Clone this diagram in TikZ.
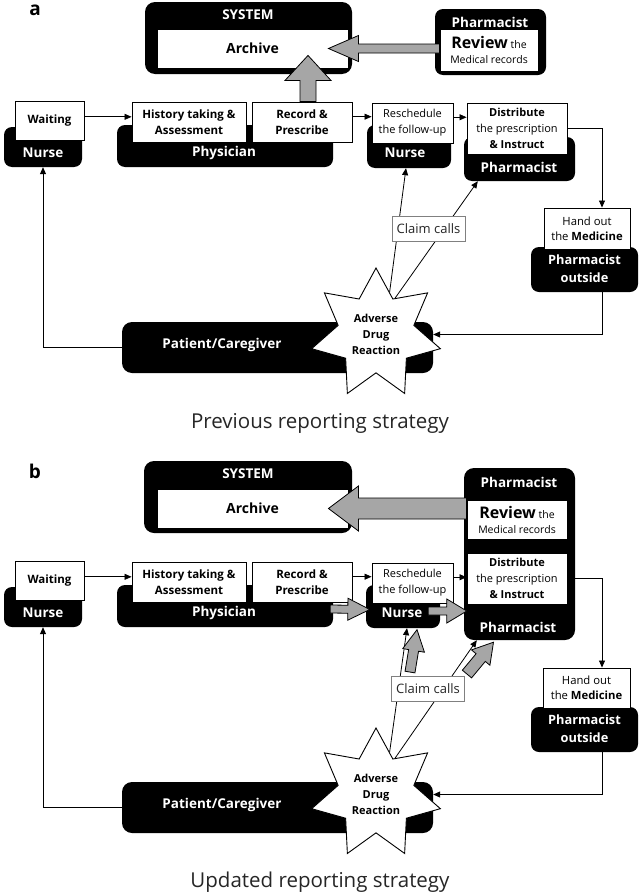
\documentclass[tikz,border=0pt]{standalone}
\usepackage{fontspec}
\setmainfont{Open Sans}
\usetikzlibrary{shapes.geometric,arrows.meta,calc}

\newcommand{\fs}[2]{\fontsize{#1}{#2}\selectfont}

\tikzset{
  rolebox/.style={fill=black, rounded corners=8pt, inner sep=0pt},
  rolename/.style={text=white, font=\bfseries\fs{13.5}{18}, align=center, inner sep=0pt},
  taskbox/.style={draw=black, line width=0.9pt, fill=white, inner sep=0pt, align=center},
  boldtask/.style={taskbox, font=\bfseries\fs{11.5}{16}},
  plaintask/.style={taskbox, font=\fs{11}{16}},
  flow/.style={line width=0.8pt, -{Triangle[length=7pt,width=6pt]}},
  claimbox/.style={draw=black!50, line width=0.9pt, fill=white, text=black!85, font=\fs{13}{15}, minimum width=73pt, minimum height=25pt, inner sep=0pt},
  adrstar/.style={star, star points=7, star point ratio=1.7, minimum size=132pt, draw=black, line width=0.9pt, fill=white, inner sep=0pt, align=center, font=\bfseries\fs{11}{16}},
  blockarr/.style={draw=black, line width=0.8pt, fill=black!35, line join=miter},
  caption/.style={font=\fs{20.5}{24}, text=black!85},
  panel/.style={font=\bfseries\fs{19}{22}}
}

\newcommand{\blockarrow}[5]{%
  \coordinate (ba-h) at ($(#2)!#5!(#1)$);
  \draw[blockarr] ($(#1)!#3!90:(#2)$) -- ($(ba-h)!#3!-90:(#1)$) -- ($(ba-h)!#4!-90:(#1)$) -- (#2)
    -- ($(ba-h)!#4!90:(#1)$) -- ($(ba-h)!#3!90:(#1)$) -- ($(#1)!#3!-90:(#2)$) -- cycle;}

\begin{document}
\begin{tikzpicture}[x=1pt, y=-1pt]
\useasboundingbox (0,0) rectangle (640,894);

\node[panel] (labA) at (35,10) {a};

\node[rolebox, minimum width=207pt, minimum height=72pt, rounded corners=10pt] (sysA) at (248.5,38) {};
\node[rolebox, minimum width=111pt, minimum height=66pt] (phrTA) at (490.5,42) {};
\node[rolebox, minimum width=78pt, minimum height=40pt] (nurA) at (43,147) {};
\node[rolebox, minimum width=216pt, minimum height=42pt] (phyA) at (225,146) {};
\node[rolebox, minimum width=84pt, minimum height=43pt] (nurMA) at (409,146.5) {};
\node[rolebox, minimum width=111pt, minimum height=44pt] (pharMA) at (519.5,159) {};
\node[rolebox, minimum width=107pt, minimum height=45pt] (pharoA) at (584.5,269.5) {};
\node[rolebox, minimum width=311pt, minimum height=51pt, rounded corners=10pt] (patA) at (277.5,347.5) {};

\node[rolename] (sysAt) at (248,15) {SYSTEM};
\node[rolename] (phrTAt) at (490,22) {Pharmacist};
\node[rolename] (nurAt) at (43,153) {Nurse};
\node[rolename] (phyAt) at (224,153) {Physician};
\node[rolename] (nurMAt) at (405,153) {Nurse};
\node[rolename] (pharMAt) at (519,167) {Pharmacist};
\node[rolename, font=\bfseries\fs{12.8}{18}] (pharoAt) at (584.5,269) {Pharmacist\\outside};
\node[rolename] (patAt) at (222,345) {Patient/Caregiver};

\node[taskbox, font=\bfseries\fs{14}{16}, minimum width=191pt, minimum height=39pt] (archA) at (252.5,48.5) {Archive};
\node[taskbox, font=\fs{10.5}{15}, minimum width=98pt, minimum height=42pt] (revA) at (489,50) {{\bfseries\fs{16}{15}Review} the\\Medical records};
\node[boldtask, minimum width=69pt, minimum height=39pt] (waitA) at (49.5,120.5) {Waiting};
\node[boldtask, minimum width=114pt, minimum height=40pt] (histA) at (189,122) {History taking \&\\Assessment};
\node[boldtask, minimum width=100pt, minimum height=40pt] (recA) at (302,122) {Record \&\\Prescribe};
\node[plaintask, minimum width=81pt, minimum height=40pt] (reschA) at (412.5,123) {Reschedule\\the follow-up};
\node[plaintask, minimum width=100pt, minimum height=51pt] (distA) at (517,128.5) {\textbf{Distribute}\\the prescription\\\textbf{\& Instruct}};
\node[plaintask, minimum width=86pt, minimum height=41pt, font=\fs{11.3}{15}] (handA) at (587,228.5) {Hand out\\the \textbf{Medicine}};

\node[adrstar] (adrA) at (376,334) {Adverse\\Drug\\Reaction};

\coordinate (railA) at (602,130);
\draw[flow] (waitA.6) -- (waitA.6 -| histA.west);
\draw[flow] (recA.6) -- (recA.6 -| reschA.west);
\draw[flow] (reschA.8) -- (reschA.8 -| distA.west);
\draw[flow] (distA.east) -| (railA |- handA.north);
\draw[flow] (railA |- pharoA.south) |- ([yshift=13pt]patA.east);
\draw[flow] (patA.west) -| (nurA.south);
\draw[flow] (adrA.72) -- ([xshift=-3pt]nurMA.south);
\draw[flow] (adrA.62) -- ([xshift=14pt]pharMA.south west);

\node[claimbox] (claimA) at (428.5,229) {Claim calls};

\coordinate (upA1) at ($(recA.north)+(6,0)$);
\coordinate (upA2) at ($(upA1 |- archA.south)+(0,-13)$);
\blockarrow{upA1}{upA2}{8pt}{23pt}{25pt}
\coordinate (lfA1) at (revA.west |- archA.east);
\coordinate (lfA2) at ($(archA.east)+(-20,0)$);
\blockarrow{lfA1}{lfA2}{4.5pt}{13pt}{30pt}

\node[caption] (capA) at (320,423) {Previous reporting strategy};

\node[panel] (labB) at (35,471) {b};

\node[rolebox, minimum width=208pt, minimum height=72pt, rounded corners=10pt] (sysB) at (248,497) {};
\node[rolebox, minimum width=111pt, minimum height=172pt, rounded corners=10pt] (pharB) at (519.5,554) {};
\node[rolebox, minimum width=78pt, minimum height=40pt] (nurB) at (43,607) {};
\node[rolebox, minimum width=216pt, minimum height=42pt] (phyB) at (225,606) {};
\node[rolebox, minimum width=74pt, minimum height=43pt] (nurMB) at (403,606.5) {};
\node[rolebox, minimum width=107pt, minimum height=45pt] (pharoB) at (584.5,729.5) {};
\node[rolebox, minimum width=311pt, minimum height=51pt, rounded corners=10pt] (patB) at (277.5,807.5) {};

\node[rolename] (sysBt) at (248,474) {SYSTEM};
\node[rolename] (pharBt) at (519,482) {Pharmacist};
\node[rolename] (pharBt2) at (518,627) {Pharmacist};
\node[rolename] (nurBt) at (43,613) {Nurse};
\node[rolename] (phyBt) at (224,613) {Physician};
\node[rolename] (nurMBt) at (402,613) {Nurse};
\node[rolename, font=\bfseries\fs{12.8}{18}] (pharoBt) at (584.5,729) {Pharmacist\\outside};
\node[rolename] (patBt) at (222,805) {Patient/Caregiver};

\node[taskbox, font=\bfseries\fs{14}{16}, minimum width=191pt, minimum height=39pt] (archB) at (252.5,508.5) {Archive};
\node[taskbox, font=\fs{10.5}{15}, minimum width=100pt, minimum height=39pt] (revB) at (517,519.5) {{\bfseries\fs{16}{15}Review} the\\Medical records};
\node[boldtask, minimum width=69pt, minimum height=39pt] (waitB) at (49.5,580.5) {Waiting};
\node[boldtask, minimum width=114pt, minimum height=40pt] (histB) at (189,582) {History taking \&\\Assessment};
\node[boldtask, minimum width=100pt, minimum height=40pt] (recB) at (302,582) {Record \&\\Prescribe};
\node[plaintask, minimum width=81pt, minimum height=40pt] (reschB) at (412.5,583) {Reschedule\\the follow-up};
\node[plaintask, minimum width=100pt, minimum height=51pt] (distB) at (517,578.5) {\textbf{Distribute}\\the prescription\\\textbf{\& Instruct}};
\node[plaintask, minimum width=87pt, minimum height=40pt, font=\fs{11.3}{15}] (handB) at (586.5,688) {Hand out\\the \textbf{Medicine}};

\node[adrstar] (adrB) at (376,794) {Adverse\\Drug\\Reaction};

\coordinate (railB) at (602,578);
\draw[flow] (waitB.6) -- (waitB.6 -| histB.west);
\draw[flow] (recB.6) -- (recB.6 -| reschB.west);
\draw[flow] (reschB.8) -- (reschB.8 -| distB.west);
\draw[flow] (distB.east) -| (railB |- handB.north);
\draw[flow] (railB |- pharoB.south) |- ([yshift=13pt]patB.east);
\draw[flow] (patB.west) -| (nurB.south);
\draw[flow] (adrB.72) -- ([xshift=4pt]nurMB.south);
\draw[flow] (adrB.62) -- ([xshift=13pt]pharB.south west);

\node[claimbox] (claimB) at (428,689) {Claim calls};

\coordinate (lfB1) at (revB.west |- archB.east);
\coordinate (lfB2) at ($(archB.east)+(-20,0)$);
\blockarrow{lfB1}{lfB2}{10.5pt}{22.5pt}{30pt}
\coordinate (rtB1) at ($(phyB.east)+(-3,3)$);
\coordinate (rtB2) at ($(nurMB.west)+(4,3)$);
\blockarrow{rtB1}{rtB2}{4pt}{11pt}{22pt}
\coordinate (rtB3) at ($(nurMB.east)+(-12,4.5)$);
\coordinate (rtB4) at ($(pharB.west |- nurMB.east)+(3,4.5)$);
\blockarrow{rtB3}{rtB4}{4pt}{12pt}{20pt}
\coordinate (upB1) at ($(claimB.north)+(-18,-4)$);
\coordinate (upB2) at ($(nurMB.south)+(14,1.5)$);
\blockarrow{upB1}{upB2}{5pt}{11pt}{21pt}
\coordinate (dgB1) at ($(claimB.north east)+(2,-2)$);
\coordinate (dgB2) at ($(pharB.south)+(-26,2)$);
\blockarrow{dgB1}{dgB2}{6pt}{12pt}{20pt}

\node[caption] (capB) at (320,882) {Updated reporting strategy};
\end{tikzpicture}
\end{document}
